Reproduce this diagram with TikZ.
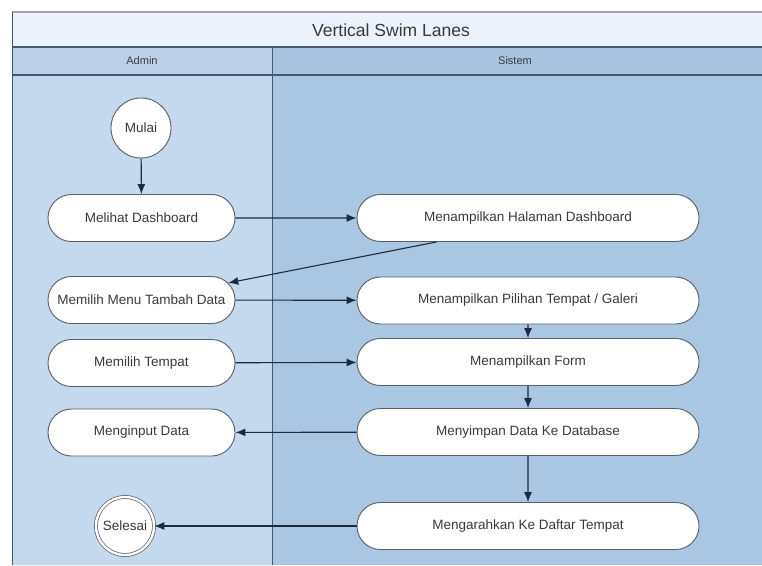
\documentclass[tikz,border=0pt]{standalone}
\usepackage{fontspec}
\setmainfont{Liberation Sans}
\usetikzlibrary{shapes.misc,arrows.meta,calc}

\definecolor{titlefill}{HTML}{EBF2FC}
\definecolor{adminhead}{HTML}{BCD1E9}
\definecolor{sistemhead}{HTML}{A7C3E0}
\definecolor{adminlane}{HTML}{C4D8EE}
\definecolor{sistemlane}{HTML}{A9C6E3}
\definecolor{laneline}{HTML}{46596E}
\definecolor{boxline}{HTML}{5A5F66}
\definecolor{arrowline}{HTML}{1E2B3C}
\definecolor{txt}{HTML}{3A3A3A}

\tikzset{
  actbox/.style={rounded rectangle, draw=boxline, line width=0.9pt, fill=white,
    minimum height=47pt, inner sep=0pt, text=txt,
    font=\fontsize{13.5}{15}\selectfont},
  leftbox/.style={actbox, minimum width=187pt},
  rightbox/.style={actbox, minimum width=342pt},
  startnode/.style={circle, draw=boxline, line width=0.9pt, fill=white,
    minimum size=60pt, inner sep=0pt, text=txt,
    font=\fontsize{13.5}{15}\selectfont},
  endnode/.style={circle, draw=boxline, line width=0.7pt, double=white,
    double distance=2.4pt, fill=white, minimum size=58pt, inner sep=0pt,
    text=txt, font=\fontsize{13.5}{15}\selectfont},
  flow/.style={draw=arrowline, line width=1.1pt,
    -{Latex[length=10pt,width=8pt]}},
  lanetitle/.style={text=txt, font=\fontsize{11}{13}\selectfont},
}

\begin{document}
\begin{tikzpicture}[x=1pt,y=-1pt]
  \useasboundingbox (0,0) rectangle (762,565);

  % lanes: title band, headers and bodies
  \fill[titlefill] (12,12) rectangle (762,47);
  \fill[adminhead] (12,47) rectangle (272,75);
  \fill[sistemhead] (272,47) rectangle (762,75);
  \fill[adminlane] (12,75) rectangle (272,565);
  \fill[sistemlane] (272,75) rectangle (762,565);

  \draw[draw=gray!70, line width=1.2pt] (12,12) -- (762,12);
  \draw[draw=laneline, line width=1.2pt] (12,47) -- (762,47);
  \draw[draw=laneline, line width=1.2pt] (12,75) -- (762,75);
  \draw[draw=laneline, line width=1pt] (12,12) -- (12,565);
  \draw[draw=laneline, line width=1pt] (272,47) -- (272,565);

  \node[text=txt, font=\fontsize{17.5}{20}\selectfont] (title) at (391,30) {Vertical Swim Lanes};
  \node[lanetitle] (admin) at (142,61) {Admin};
  \node[lanetitle] (sistem) at (515,61) {Sistem};

  % Admin activities
  \node[startnode] (mulai) at (141,128) {Mulai};
  \node[leftbox] (melihat) at (141.5,218) {Melihat Dashboard};
  \node[leftbox] (menu) at (141.5,300) {Memilih Menu Tambah Data};
  \node[leftbox] (tempat) at (141.5,363) {Memilih Tempat};
  \node[leftbox] (input) at (141.5,432.5) {Menginput Data};
  \node[endnode] (selesai) at (125,526) {Selesai};

  % Sistem activities
  \node[rightbox] (hal) at (528,218) {Menampilkan Halaman Dashboard};
  \node[rightbox] (pil) at (528,300.5) {Menampilkan Pilihan Tempat / Galeri};
  \node[rightbox] (form) at (528,362) {Menampilkan Form};
  \node[rightbox] (simpan) at (528,432) {Menyimpan Data Ke Database};
  \node[rightbox] (arah) at (528,526) {Mengarahkan Ke Daftar Tempat};

  % control flow
  \coordinate (halout) at ($(hal.south west)+(56,0)$);
  \draw[flow] (mulai) -- (melihat);
  \draw[flow] (melihat) -- (hal);
  \draw[flow] (halout) -- (menu);
  \draw[flow] (menu) -- (pil);
  \draw[flow] (pil) -- (form);
  \draw[flow] (tempat) -- (form);
  \draw[flow] (form) -- (simpan);
  \draw[flow] (simpan) -- (input);
  \draw[flow] (simpan) -- (arah);
  \draw[flow] (arah) -- (selesai);
\end{tikzpicture}
\end{document}
